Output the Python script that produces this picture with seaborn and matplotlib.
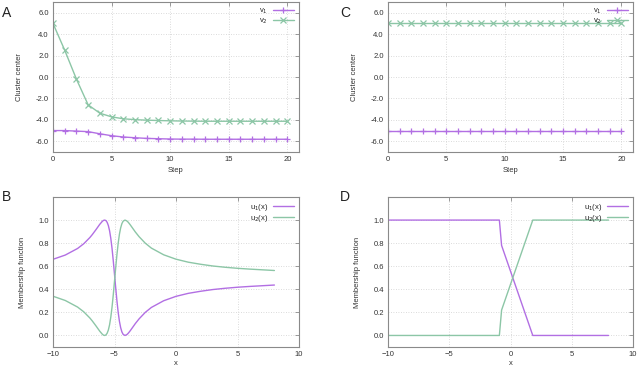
import numpy as np
import pandas as pd
import matplotlib
matplotlib.use("Agg")
import matplotlib.pyplot as plt
import seaborn as sns

# ---------------- data ----------------
steps = list(range(21))
v1_A = [-5.0, -5.0, -5.05, -5.1, -5.3, -5.48, -5.6, -5.67, -5.73, -5.76, -5.79,
        -5.8, -5.8, -5.81, -5.81, -5.81, -5.81, -5.81, -5.81, -5.81, -5.81]
v2_A = [5.0, 2.5, -0.2, -2.6, -3.38, -3.72, -3.9, -3.98, -4.03, -4.06, -4.09,
        -4.11, -4.12, -4.13, -4.13, -4.13, -4.13, -4.13, -4.13, -4.13, -4.13]
v1_C = [-5.0] * 21
v2_C = [5.0] * 21

x_B = [-10, -9, -8, -7.5, -7, -6.8, -6.5, -6.2, -6.0, -5.9, -5.8, -5.7, -5.6,
       -5.5, -5.4, -5.3, -5.2, -5.1, -5.0, -4.9, -4.8, -4.7, -4.6, -4.5, -4.4,
       -4.3, -4.15, -4.0, -3.9, -3.8, -3.7, -3.5, -3.3, -3.0, -2.5, -2.0, -1.0,
       0, 1, 2, 3, 4, 5, 6, 7, 8]
u1_B = [0.660, 0.697, 0.754, 0.795, 0.849, 0.875, 0.918, 0.963, 0.988, 0.997,
        1.000, 0.996, 0.981, 0.953, 0.907, 0.841, 0.754, 0.648, 0.530, 0.410,
        0.297, 0.200, 0.123, 0.068, 0.031, 0.010, 0.000, 0.007, 0.017, 0.030,
        0.044, 0.074, 0.104, 0.144, 0.200, 0.243, 0.301, 0.339, 0.365, 0.383,
        0.398, 0.409, 0.418, 0.425, 0.431, 0.437]
u2_B = [0.340, 0.303, 0.246, 0.205, 0.151, 0.125, 0.082, 0.037, 0.012, 0.003,
        0.000, 0.004, 0.019, 0.047, 0.093, 0.159, 0.246, 0.352, 0.470, 0.590,
        0.703, 0.800, 0.877, 0.932, 0.969, 0.990, 1.000, 0.993, 0.983, 0.970,
        0.956, 0.926, 0.896, 0.856, 0.800, 0.757, 0.699, 0.661, 0.635, 0.617,
        0.602, 0.591, 0.582, 0.575, 0.569, 0.563]

x_D = [-10, -0.909, -0.727, 1.818, 8]
u1_D = [1.0, 1.0, 0.78, 0.0, 0.0]
u2_D = [0.0, 0.0, 0.22, 1.0, 1.0]

PURPLE = "#b26fe3"
GREEN = "#8cc6a6"
TXT = "#333333"
FS = 5.5

sns.set_style("white")
plt.rcParams["font.family"] = ["Liberation Sans", "DejaVu Sans"]

fig = plt.figure(figsize=(6.4, 3.67), dpi=100)
W, H = 640, 367


def add_ax(l, t, r, b):
    return fig.add_axes([l / W, (H - b) / H, (r - l) / W, (b - t) / H])


axA = add_ax(53, 2, 299, 152)
axC = add_ax(388, 2, 633, 152)
axB = add_ax(53, 197, 299, 347)
axD = add_ax(388, 197, 633, 347)


def style(ax):
    for s in ax.spines.values():
        s.set_color("#8a8a8a")
        s.set_linewidth(0.8)
    ax.grid(True, color="#cfcfcf", linestyle=(0, (1, 2)), linewidth=0.6)
    ax.tick_params(direction="in", top=True, right=True, length=3,
                   width=0.6, color="#8a8a8a", labelsize=FS,
                   labelcolor=TXT, pad=3)


def legend(ax):
    ax.legend(loc="upper right", markerfirst=False, frameon=False,
              fontsize=FS, handlelength=2.8, labelspacing=0.0,
              borderaxespad=0.25, handletextpad=0.6)


def steps_panel(ax, v1, v2):
    df = pd.DataFrame({"Step": steps + steps,
                       "val": v1 + v2,
                       "s": ["v$_1$"] * 21 + ["v$_2$"] * 21})
    sns.lineplot(data=df, x="Step", y="val", hue="s", style="s",
                 markers={"v$_1$": "+", "v$_2$": "x"}, dashes=False,
                 palette={"v$_1$": PURPLE, "v$_2$": GREEN},
                 markersize=5, markeredgewidth=0.9, linewidth=1.0, ax=ax)
    for ln in ax.get_lines():
        ln.set_markeredgecolor(ln.get_color())
    ax.set_xlim(0, 21)
    ax.set_ylim(-7, 7)
    ax.set_xticks([0, 5, 10, 15, 20])
    ax.set_yticks([-6, -4, -2, 0, 2, 4, 6])
    ax.set_yticklabels([f"{t:.1f}" for t in [-6, -4, -2, 0, 2, 4, 6]])
    ax.set_xlabel("Step", fontsize=FS, color=TXT, labelpad=3)
    ax.set_ylabel("Cluster center", fontsize=FS, color=TXT, labelpad=9)
    style(ax)
    legend(ax)
    for ln in ax.get_legend().get_lines():
        ln.set_markeredgecolor(ln.get_color())


def memb_panel(ax, x, u1, u2):
    df = pd.DataFrame({"x": list(x) + list(x),
                       "u": list(u1) + list(u2),
                       "s": ["u$_1$(x)"] * len(x) + ["u$_2$(x)"] * len(x)})
    sns.lineplot(data=df, x="x", y="u", hue="s",
                 palette={"u$_1$(x)": PURPLE, "u$_2$(x)": GREEN},
                 linewidth=1.0, ax=ax, sort=False)
    ax.set_xlim(-10, 10)
    ax.set_ylim(-0.1, 1.2)
    ax.set_xticks([-10, -5, 0, 5, 10])
    ax.set_yticks([0, 0.2, 0.4, 0.6, 0.8, 1.0])
    ax.set_yticklabels([f"{t:.1f}" for t in [0, 0.2, 0.4, 0.6, 0.8, 1.0]])
    ax.set_xlabel("x", fontsize=FS, color=TXT, labelpad=1)
    ax.set_ylabel("Membership function", fontsize=FS, color=TXT,
                  labelpad=9)
    style(ax)
    legend(ax)


steps_panel(axA, v1_A, v2_A)
steps_panel(axC, v1_C, v2_C)
memb_panel(axB, x_B, u1_B, u2_B)
memb_panel(axD, x_D, u1_D, u2_D)

for lab, px, py in [("A", 2, 6), ("C", 340, 6), ("B", 2, 190), ("D", 340, 190)]:
    fig.text(px / W, 1 - py / H, lab, fontsize=10, va="top", ha="left",
             color="#222222")

fig.savefig("out.png", dpi=100)
